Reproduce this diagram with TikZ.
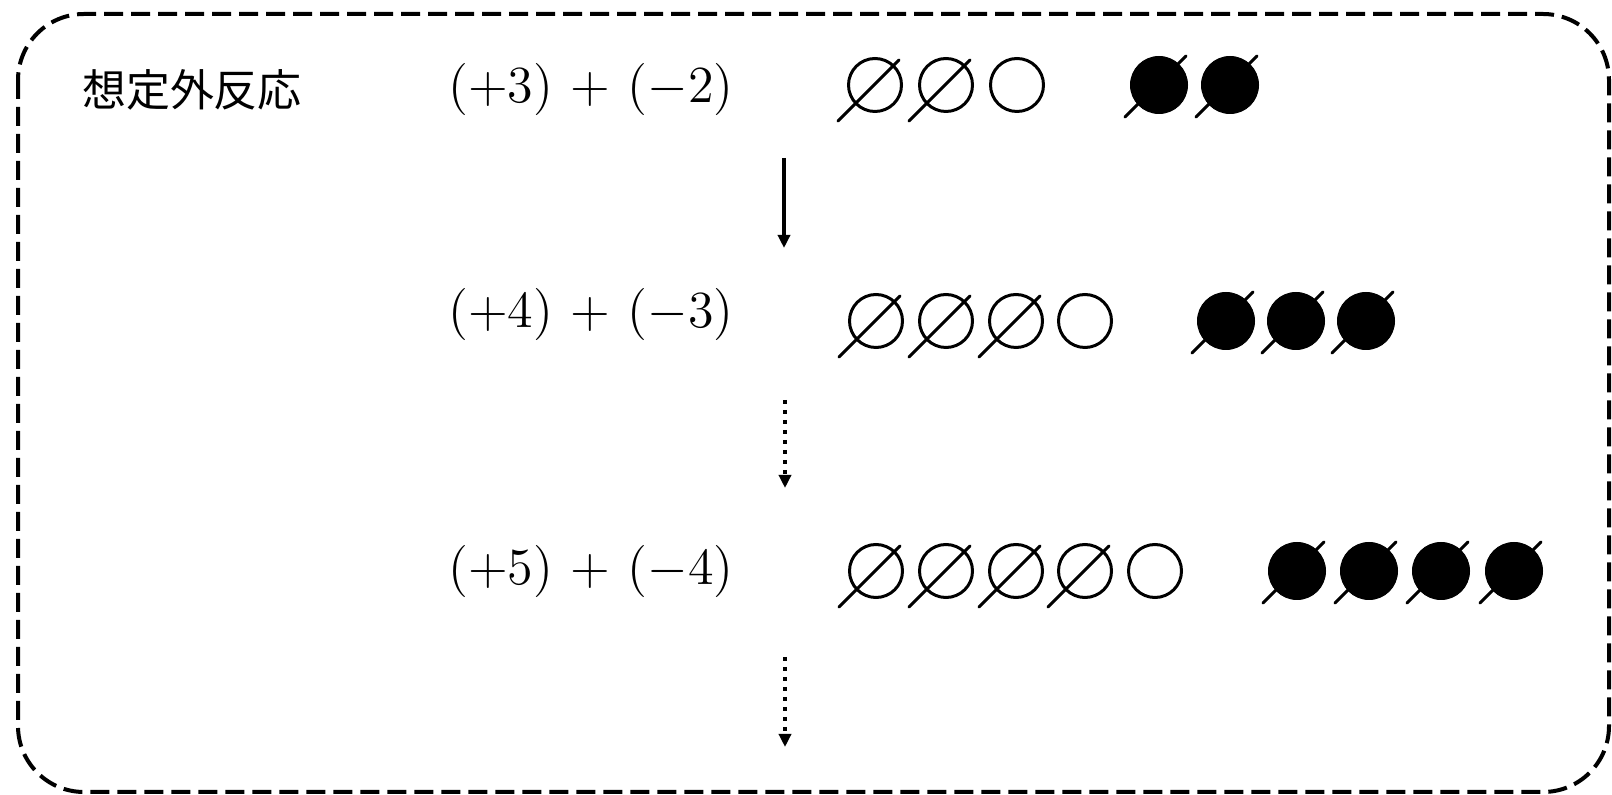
\documentclass[tikz,border=0pt]{standalone}
\usepackage{fontspec}
\usepackage{xcolor}
\usepackage{tikz}
\usetikzlibrary{arrows.meta}
\newfontfamily\jp{Noto Sans CJK JP}

\tikzset{
	coin/.style={circle, draw, line width=1.5pt, minimum size=26.5pt, inner sep=0pt},
	negcoin/.style={coin, fill=black, line width=0.5pt, minimum size=28.5pt},
	slash/.style={line width=1.5pt, line cap=round},
	expr/.style={font=\fontsize{12}{14}\selectfont, scale=2.17, transform shape},
	step arrow/.style={-{Triangle[length=6.5pt, width=6pt]}, line width=2pt},
}
\newcommand{\plusgap}{\mkern2mu+\mkern2mu}

\begin{document}
\begin{tikzpicture}[x=0.5pt, y=-0.5pt]
	\useasboundingbox (0,0) rectangle (1612,795);
	\draw[line width=2pt, dash pattern=on 9.5pt off 4pt, rounded corners=33pt] (18,14) rectangle (1609,792);

	\node[font=\jp\fontsize{22}{26}\selectfont] (title) at (192,90) {想定外反応};

	\node[expr] (e1) at (591,89) {$(+3)\plusgap(-2)$};
	\node[expr] (e2) at (591,314) {$(+4)\plusgap(-3)$};
	\node[expr] (e3) at (591,571) {$(+5)\plusgap(-4)$};

	% first row
	\node[coin] (a1) at (875,85) {};
	\node[coin] (a2) at (946,85) {};
	\node[coin] (a3) at (1017,85) {};
	\node[negcoin] (na1) at (1159,85) {};
	\node[negcoin] (na2) at (1230,85) {};

	% second row
	\node[coin] (b1) at (876,321) {};
	\node[coin] (b2) at (946,321) {};
	\node[coin] (b3) at (1016,321) {};
	\node[coin] (b4) at (1085,321) {};
	\node[negcoin] (nb1) at (1226,321) {};
	\node[negcoin] (nb2) at (1296,321) {};
	\node[negcoin] (nb3) at (1366,321) {};

	% third row
	\node[coin] (c1) at (876,571) {};
	\node[coin] (c2) at (946,571) {};
	\node[coin] (c3) at (1016,571) {};
	\node[coin] (c4) at (1085,571) {};
	\node[coin] (c5) at (1155,571) {};
	\node[negcoin] (nc1) at (1297,571) {};
	\node[negcoin] (nc2) at (1369,571) {};
	\node[negcoin] (nc3) at (1441,571) {};
	\node[negcoin] (nc4) at (1514,571) {};

	% crossed out pairs
	\foreach \c in {a1,a2,b1,b2,b3,c1,c2,c3,c4}
		\draw[slash] ([shift={(-37,36)}]\c.center) -- ([shift={(24,-25)}]\c.center);
	\foreach \c in {na1,na2,nb1,nb2,nb3,nc1,nc2,nc3,nc4}
		\draw[slash] ([shift={(-34,32)}]\c.center) -- ([shift={(27,-29)}]\c.center);

	\coordinate (s1) at (784,158);
	\coordinate (t1) at (784,248);
	\coordinate (s2) at (785,400);
	\coordinate (t2) at (785,488);
	\coordinate (s3) at (785,657);
	\coordinate (t3) at (785,747);

	\draw[step arrow] (s1) -- (t1);
	\draw[step arrow, dash pattern=on 2pt off 3pt] (s2) -- (t2);
	\draw[step arrow, dash pattern=on 2pt off 3pt] (s3) -- (t3);
\end{tikzpicture}
\end{document}
